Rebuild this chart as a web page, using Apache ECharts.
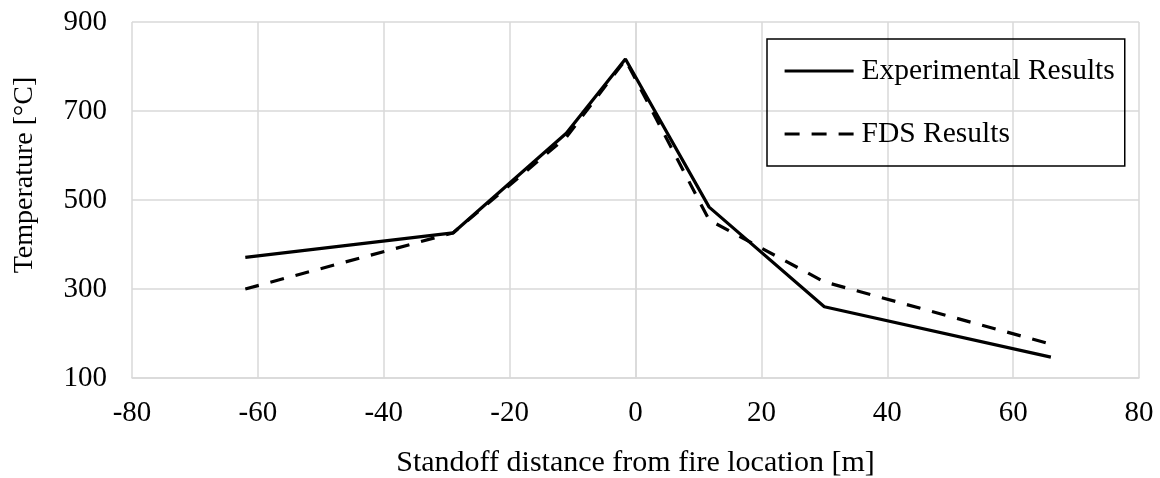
<!DOCTYPE html>
<html>
<head>
<meta charset="utf-8">
<script src="https://cdn.jsdelivr.net/npm/echarts@6/dist/echarts.min.js"></script>
<style>
  html, body { margin: 0; padding: 0; background: #fff; }
  #chart { width: 1160px; height: 478px; }
</style>
</head>
<body>
<div id="chart"></div>
<script>
// Standoff distance from the fire location [m]
const distance = [-62, -29, -11, -1.6, 11.7, 30, 66];
// Measured temperatures [°C]
const experimental = [371, 426, 650, 817, 484, 260, 147];
// FDS simulated temperatures [°C]
const fds = [300, 426, 641, 815, 455, 316, 176];

const seriesNames = ['Experimental Results', 'FDS Results'];
const xTitle = 'Standoff distance from fire location [m]';
const yTitle = 'Temperature [°C]';

const FONT = "'Liberation Serif', 'Times New Roman', serif";
const GRID = '#d9d9d9';
const LINE_W = 3.2;
const DASH = [14, 12];

const pairs = (xs, ys) => xs.map((x, i) => [x, ys[i]]);

const chart = echarts.init(document.getElementById('chart'));
chart.setOption({
  animation: false,
  backgroundColor: '#fff',
  textStyle: { fontFamily: FONT, color: '#000' },
  grid: { left: 132, right: 21, top: 22, bottom: 100, containLabel: false, outerBoundsMode: 'none' },
  xAxis: {
    type: 'value',
    min: -80, max: 80, interval: 20,
    name: xTitle,
    nameLocation: 'middle',
    nameGap: 70,
    nameTextStyle: { fontFamily: FONT, fontSize: 30, color: '#000' },
    axisLine: { show: true, lineStyle: { color: GRID, width: 1.5 } },
    axisTick: { show: false },
    axisLabel: { fontFamily: FONT, fontSize: 29, color: '#000', margin: 21 },
    splitLine: { show: true, lineStyle: { color: GRID, width: 1.5 } }
  },
  yAxis: {
    type: 'value',
    min: 100, max: 900, interval: 200,
    name: yTitle,
    nameLocation: 'middle',
    nameRotate: 90,
    nameGap: 93,
    nameTextStyle: { fontFamily: FONT, fontSize: 28, color: '#000', padding: [0, 0, 0, 50] },
    axisLine: { show: true, lineStyle: { color: GRID, width: 1.5 } },
    axisTick: { show: false },
    axisLabel: { fontFamily: FONT, fontSize: 29, color: '#000', margin: 25 },
    splitLine: { show: true, lineStyle: { color: GRID, width: 1.5 } }
  },
  legend: {
    orient: 'vertical',
    left: 767, top: 39,
    padding: [17, 10, 17, 16],
    borderColor: '#000',
    borderWidth: 1.5,
    itemWidth: 69,
    itemHeight: 14,
    itemGap: 33,
    itemStyle: { opacity: 0 },
    textStyle: { fontFamily: FONT, fontSize: 29.5, color: '#000', lineHeight: 28, padding: [0, 0, 0, 3] },
    data: [
      { name: seriesNames[0], lineStyle: { color: '#000', width: LINE_W, type: 'solid' } },
      { name: seriesNames[1], lineStyle: { color: '#000', width: LINE_W, type: [15, 12] } }
    ]
  },
  series: [
    {
      name: seriesNames[0],
      type: 'line',
      data: pairs(distance, experimental),
      symbol: 'none',
      lineStyle: { color: '#000', width: LINE_W, type: 'solid' },
      itemStyle: { color: '#000' }
    },
    {
      name: seriesNames[1],
      type: 'line',
      data: pairs(distance, fds),
      symbol: 'none',
      lineStyle: { color: '#000', width: LINE_W, type: DASH },
      itemStyle: { color: '#000' }
    }
  ]
});
</script>
</body>
</html>
